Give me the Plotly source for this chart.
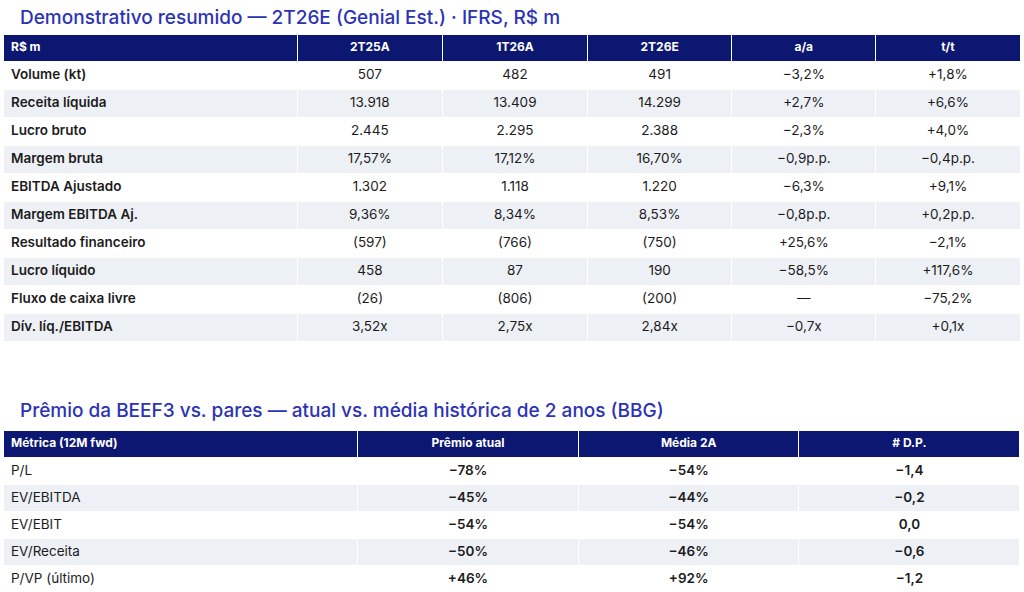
"""
Resumo 2T26E e prêmio da BEEF3 vs. pares em duas tabelas
"""

import plotly.graph_objects as go

NAVY = "#0c1772"
TITLE_BLUE = "#2c33b5"
ZEBRA = "#edf0f5"
TEXT = "#1c1c1c"
FONT = "Inter"

# Tabela 1: demonstrativo resumido
demo_header = ["R$ m", "2T25A", "1T26A", "2T26E", "a/a", "t/t"]
demo_lines = [
    "Volume (kt)",
    "Receita líquida",
    "Lucro bruto",
    "Margem bruta",
    "EBITDA Ajustado",
    "Margem EBITDA Aj.",
    "Resultado financeiro",
    "Lucro líquido",
    "Fluxo de caixa livre",
    "Dív. líq./EBITDA",
]
q2_25 = ["507", "13.918", "2.445", "17,57%", "1.302", "9,36%", "(597)", "458", "(26)", "3,52x"]
q1_26 = ["482", "13.409", "2.295", "17,12%", "1.118", "8,34%", "(766)", "87", "(806)", "2,75x"]
q2_26 = ["491", "14.299", "2.388", "16,70%", "1.220", "8,53%", "(750)", "190", "(200)", "2,84x"]
yoy = ["−3,2%", "+2,7%", "−2,3%", "−0,9p.p.", "−6,3%", "−0,8p.p.", "+25,6%", "−58,5%", "—", "−0,7x"]
qoq = ["+1,8%", "+6,6%", "+4,0%", "−0,4p.p.", "+9,1%", "+0,2p.p.", "−2,1%", "+117,6%", "−75,2%", "+0,1x"]

# Tabela 2: prêmio vs. pares
prem_header = ["Métrica (12M fwd)", "Prêmio atual", "Média 2A", "# D.P."]
prem_metrics = ["P/L", "EV/EBITDA", "EV/EBIT", "EV/Receita", "P/VP (último)"]
prem_current = ["−78%", "−45%", "−54%", "−50%", "+46%"]
prem_avg_2y = ["−54%", "−44%", "−54%", "−46%", "+92%"]
prem_std = ["−1,4", "−0,2", "0,0", "−0,6", "−1,2"]


def _zebra(n: int) -> list:
    """Alternate white / light grey row fills."""
    return ["white" if i % 2 == 0 else ZEBRA for i in range(n)]


def build_figure() -> go.Figure:
    fig = go.Figure()
    W, H = 1024, 592
    x_dom = [3 / W, 1020 / W]

    # no <b> markup in cells: plotly lets marked-up rows grow taller,
    # so weights are set per column instead
    fills1 = _zebra(len(demo_lines))
    fig.add_trace(
        go.Table(
            domain=dict(x=x_dom, y=[0.38, 1 - 34 / H]),
            columnwidth=[294, 145, 145, 144, 144, 144],
            header=dict(
                values=demo_header,
                fill_color=NAVY,
                line=dict(color="white", width=1),
                font=dict(family=FONT, color="white", size=12, weight=700),
                align=["left"] + ["center"] * 5,
                height=27,
            ),
            cells=dict(
                values=[demo_lines, q2_25, q1_26, q2_26, yoy, qoq],
                fill_color=[fills1] * 6,
                line=dict(color="white", width=1),
                font=dict(family=FONT, color=TEXT, size=13.5, weight=[600] + [400] * 5),
                align=["left"] + ["center"] * 5,
                height=28,
            ),
        )
    )

    fills2 = _zebra(len(prem_metrics))
    fig.add_trace(
        go.Table(
            domain=dict(x=x_dom, y=[0, 1 - 430 / H]),
            columnwidth=[354, 221, 220, 221],
            header=dict(
                values=prem_header,
                fill_color=NAVY,
                line=dict(color="white", width=1),
                font=dict(family=FONT, color="white", size=12, weight=700),
                align=["left"] + ["center"] * 3,
                height=27,
            ),
            cells=dict(
                values=[prem_metrics, prem_current, prem_avg_2y, prem_std],
                fill_color=[fills2] * 4,
                line=dict(color="white", width=1),
                font=dict(family=FONT, color=TEXT, size=13.5, weight=[400, 600, 600, 600]),
                align=["left", "center", "center", "center"],
                height=27,
            ),
        )
    )

    titles = [
        ("Demonstrativo resumido — 2T26E (Genial Est.) · IFRS, R$ m", 17),
        ("Prêmio da BEEF3 vs. pares — atual vs. média histórica de 2 anos (BBG)", 410),
    ]
    for text, y_px in titles:
        fig.add_annotation(
            text=text,
            x=18 / W,
            y=1 - y_px / H,
            xref="paper",
            yref="paper",
            xanchor="left",
            yanchor="middle",
            showarrow=False,
            font=dict(family=FONT, size=19, color=TITLE_BLUE, weight=500),
        )

    fig.update_layout(
        width=W,
        height=H,
        margin=dict(l=0, r=0, t=0, b=0),
        paper_bgcolor="white",
        plot_bgcolor="white",
    )
    return fig


fig = build_figure()
# the page's default body margin would push the figure 8px down and right
fig.write_html(
    "out.html",
    config={"displayModeBar": False},
    post_script="document.body.style.margin = '0';",
)
